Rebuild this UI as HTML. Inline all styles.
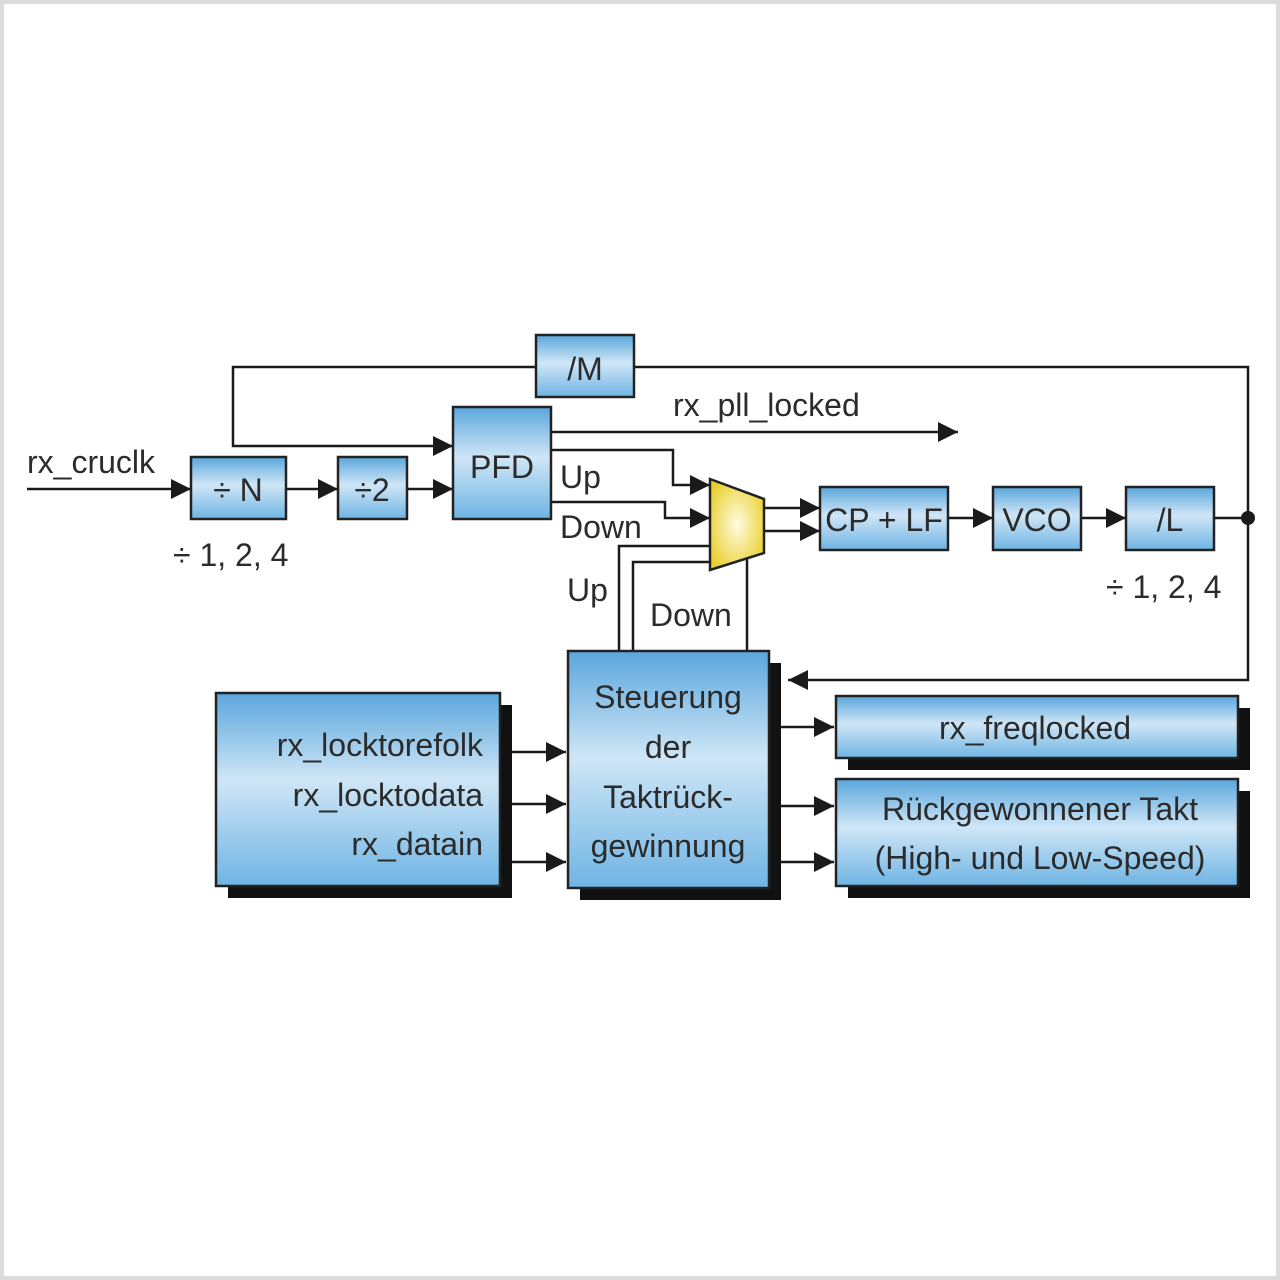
<!DOCTYPE html>
<html><head><meta charset="utf-8"><style>
html,body{margin:0;padding:0;background:#fff}
svg{display:block}
text{font-family:"Liberation Sans",sans-serif;fill:#2b2b2b;font-size:32px}
</style></head><body>
<svg width="1280" height="1280" viewBox="0 0 1280 1280" xmlns="http://www.w3.org/2000/svg">
<defs>
<linearGradient id="g" x1="0" y1="0" x2="0" y2="1">
<stop offset="0" stop-color="#5aa6dc"/><stop offset="0.45" stop-color="#cfe6f6"/><stop offset="1" stop-color="#6fb4e4"/>
</linearGradient>
<radialGradient id="y" cx="0.5" cy="0.5" r="0.6">
<stop offset="0" stop-color="#fffbe0"/><stop offset="1" stop-color="#e9cf2a"/>
</radialGradient>
<marker id="A" viewBox="0 0 10 10" refX="10" refY="5" markerWidth="22" markerHeight="20" orient="auto" markerUnits="userSpaceOnUse"><path d="M0,0 L10,5 L0,10 z" fill="#1a1a1a"/></marker>
</defs>
<rect x="2" y="2" width="1276" height="1276" fill="#fff" stroke="#dcdcdc" stroke-width="4"/>
<g fill="none" stroke="#1a1a1a" stroke-width="2.5">
<polyline points="536,367 233,367 233,446 453,446" marker-end="url(#A)"/>
<polyline points="634,367 1248,367 1248,680 788,680" marker-end="url(#A)"/>
<line x1="1214" y1="518" x2="1248" y2="518"/>
<line x1="27" y1="489" x2="191" y2="489" marker-end="url(#A)"/>
<line x1="286" y1="489" x2="338" y2="489" marker-end="url(#A)"/>
<line x1="407" y1="489" x2="453" y2="489" marker-end="url(#A)"/>
<line x1="551" y1="432" x2="958" y2="432" marker-end="url(#A)"/>
<polyline points="551,450 673,450 673,485 710,485" marker-end="url(#A)"/>
<polyline points="551,502 665,502 665,518 710,518" marker-end="url(#A)"/>
<polyline points="619,651 619,546 710,546"/>
<polyline points="633,651 633,562 710,562"/>
<line x1="747" y1="555" x2="747" y2="651"/>
<line x1="764" y1="508" x2="820" y2="508" marker-end="url(#A)"/>
<line x1="764" y1="531" x2="820" y2="531" marker-end="url(#A)"/>
<line x1="948" y1="518" x2="993" y2="518" marker-end="url(#A)"/>
<line x1="1081" y1="518" x2="1126" y2="518" marker-end="url(#A)"/>
<line x1="500" y1="752" x2="566" y2="752" marker-end="url(#A)"/>
<line x1="500" y1="804" x2="566" y2="804" marker-end="url(#A)"/>
<line x1="500" y1="862" x2="566" y2="862" marker-end="url(#A)"/>
<line x1="780" y1="727" x2="834" y2="727" marker-end="url(#A)"/>
<line x1="780" y1="806" x2="834" y2="806" marker-end="url(#A)"/>
<line x1="780" y1="862" x2="834" y2="862" marker-end="url(#A)"/>
</g>
<circle cx="1248" cy="518" r="7" fill="#1a1a1a"/>
<g fill="#111">
<rect x="228" y="705" width="284" height="193"/>
<rect x="580" y="663" width="201" height="237"/>
<rect x="848" y="708" width="402" height="62"/>
<rect x="848" y="791" width="402" height="107"/>
</g>
<g fill="url(#g)" stroke="#222" stroke-width="2.5">
<rect x="536" y="335" width="98" height="62"/>
<rect x="453" y="407" width="98" height="112"/>
<rect x="191" y="457" width="95" height="62"/>
<rect x="338" y="457" width="69" height="62"/>
<rect x="820" y="487" width="128" height="63"/>
<rect x="993" y="487" width="88" height="63"/>
<rect x="1126" y="487" width="88" height="63"/>
<rect x="216" y="693" width="284" height="193"/>
<rect x="568" y="651" width="201" height="237"/>
<rect x="836" y="696" width="402" height="62"/>
<rect x="836" y="779" width="402" height="107"/>
</g>
<polygon points="710,479 764,499 764,553 710,570" fill="url(#y)" stroke="#222" stroke-width="2.5"/>
<g text-anchor="middle">
<text x="585" y="380">/M</text>
<text x="502" y="478">PFD</text>
<text x="238" y="501">÷ N</text>
<text x="372" y="501">÷2</text>
<text x="884" y="531">CP + LF</text>
<text x="1037" y="531">VCO</text>
<text x="1170" y="531">/L</text>
<text x="668" y="708">Steuerung</text>
<text x="668" y="758">der</text>
<text x="668" y="808">Taktrück-</text>
<text x="668" y="857">gewinnung</text>
<text x="1035" y="739">rx_freqlocked</text>
<text x="1040" y="820">Rückgewonnener Takt</text>
<text x="1040" y="869">(High- und Low-Speed)</text>
</g>
<g text-anchor="end">
<text x="483" y="756">rx_locktorefolk</text>
<text x="483" y="806">rx_locktodata</text>
<text x="483" y="855">rx_datain</text>
</g>
<text x="27" y="473">rx_cruclk</text>
<text x="673" y="416">rx_pll_locked</text>
<text x="560" y="488">Up</text>
<text x="560" y="538">Down</text>
<text x="567" y="601">Up</text>
<text x="650" y="626">Down</text>
<text x="173" y="566">÷ 1, 2, 4</text>
<text x="1106" y="598">÷ 1, 2, 4</text>
</svg>
</body></html>
